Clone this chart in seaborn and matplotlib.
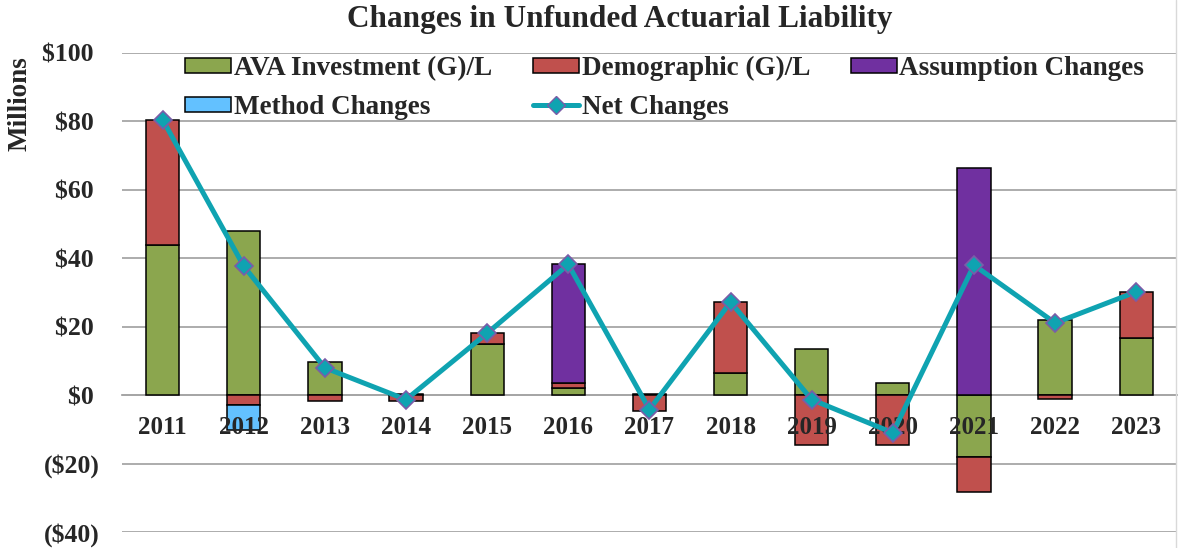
import numpy as np
import seaborn as sns
import matplotlib.pyplot as plt
from matplotlib.patches import Patch
from matplotlib.lines import Line2D

# values ($ millions)
years = ['2011', '2012', '2013', '2014', '2015', '2016', '2017',
         '2018', '2019', '2020', '2021', '2022', '2023']
ava_investment = [44.0, 48.0, 9.6, 0.4, 14.9, 2.0, 0.4, 6.5, 13.4, 3.6, -18.2, 21.9, 16.7]
demographic = [36.5, -2.9, -1.7, -1.7, 3.2, 1.6, -4.6, 20.7, -14.7, -14.5, -10.1, -1.0, 13.5]
assumption = [0, 0, 0, 0, 0, 34.6, 0, 0, 0, 0, 66.3, 0, 0]
method = [0, -7.3, 0, 0, 0, 0, 0, 0, 0, 0, 0, 0, 0]
net_changes = [80.5, 37.7, 8.0, -1.3, 18.1, 38.2, -4.2, 27.2, -1.3, -11.0, 38.0, 21.1, 30.2]

sns.set_style('white')
plt.rcParams['font.family'] = ['Liberation Serif', 'DejaVu Serif']
plt.rcParams['font.weight'] = 'bold'

fig = plt.figure(figsize=(11.78, 5.48), dpi=100)
ax = fig.add_axes([0.1036, 0.0292, 0.8954, 0.8741])

series = [
    ('AVA Investment (G)/L', ava_investment, '#8BA64E'),
    ('Demographic (G)/L', demographic, '#C0504D'),
    ('Assumption Changes', assumption, '#7030A0'),
    ('Method Changes', method, '#63C1FF'),
]

# excel-style stacking: positives go up from 0, negatives go down from 0
pos_base = np.zeros(len(years))
neg_base = np.zeros(len(years))
for name, vals, col in series:
    vals = np.array(vals, dtype=float)
    bottom = np.where(vals >= 0, pos_base, neg_base)
    sns.barplot(x=years, y=vals, bottom=bottom, color=col, saturation=1,
                width=0.41, edgecolor='black', linewidth=1.1,
                errorbar=None, ax=ax, zorder=2)
    pos_base += np.clip(vals, 0, None)
    neg_base += np.clip(vals, None, 0)

# hide empty segments so they don't leave a black line at zero
for p in ax.patches:
    if p.get_height() == 0:
        p.set_visible(False)

net_color = '#0FA3B1'
edge_purple = '#7B5CA8'
sns.pointplot(x=years, y=net_changes, color=net_color, markers='D',
              linestyles='-', errorbar=None, ax=ax, linewidth=3.6, markersize=9)
net_line = ax.lines[-1]
net_line.set_markeredgecolor(edge_purple)
net_line.set_markeredgewidth(1.2)
net_line.set_zorder(4)

ax.set_xlim(-0.5, len(years) - 0.5)
ax.set_ylim(-40, 100)
ax.set_xlabel('')
ax.set_ylabel('')

yticks = list(range(-40, 101, 20))
ax.set_yticks(yticks)
ax.set_yticklabels([f'${v} ' if v >= 0 else f'(${-v})' for v in yticks])
ax.yaxis.grid(True, color='#A6A6A6', linewidth=1.3)
ax.set_axisbelow(True)
# year labels sit on top of the bars like in excel
ax.xaxis.set_zorder(3)

for s in ['left', 'right', 'top']:
    ax.spines[s].set_visible(False)
ax.spines['bottom'].set_position(('data', 0))
ax.spines['bottom'].set_color('#A6A6A6')
ax.spines['bottom'].set_linewidth(1.3)
ax.spines['bottom'].set_zorder(1)

ax.set_xticks(np.arange(-0.5, len(years), 1.0), minor=True)
ax.tick_params(axis='x', which='minor', length=6, width=1.3, color='#A6A6A6', direction='out')
ax.tick_params(axis='x', which='major', length=0, pad=15, labelsize=18)
ax.tick_params(axis='y', length=0, pad=16, labelsize=18.5)

# legend: 3 columns, matplotlib fills column-wise so reorder
h_ava = Patch(facecolor='#8BA64E', edgecolor='black', linewidth=1.1, label='AVA Investment (G)/L')
h_dem = Patch(facecolor='#C0504D', edgecolor='black', linewidth=1.1, label='Demographic (G)/L')
h_ass = Patch(facecolor='#7030A0', edgecolor='black', linewidth=1.1, label='Assumption Changes')
h_met = Patch(facecolor='#63C1FF', edgecolor='black', linewidth=1.1, label='Method Changes')
h_net = Line2D([], [], color=net_color, linewidth=3.6, marker='D', markersize=9,
               markerfacecolor=net_color, markeredgecolor=edge_purple, label='Net Changes')
ax.legend(handles=[h_ava, h_met, h_dem, h_net, h_ass], ncol=3, frameon=False,
          loc='upper left', bbox_to_anchor=(0.037, 1.045), fontsize=19.5,
          handlelength=1.7, handleheight=0.5, handletextpad=0.1,
          columnspacing=1.5, labelspacing=0.52)

fig.text(0.526, 0.964, 'Changes in Unfunded Actuarial Liability',
         ha='center', va='center', fontsize=22.5, fontweight='bold')
fig.text(0.017, 1 - 104 / 548, 'Millions', rotation=90, ha='center', va='center',
         fontsize=19.5, fontweight='bold')
fig.add_artist(Line2D([0.9985, 0.9985], [0, 1], color='#D9D9D9', linewidth=1,
                      transform=fig.transFigure))

fig.savefig('out.png', dpi=100)
